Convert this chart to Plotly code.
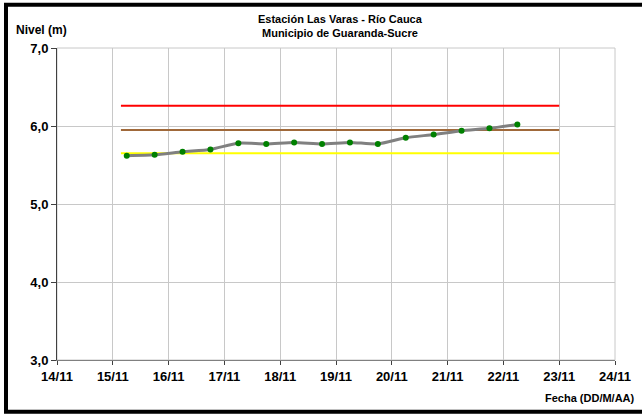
import plotly.graph_objects as go

# Water level readings, station Las Varas (Río Cauca)
fechas = [
    "2012-11-15 06:00", "2012-11-15 18:00", "2012-11-16 06:00", "2012-11-16 18:00",
    "2012-11-17 06:00", "2012-11-17 18:00", "2012-11-18 06:00", "2012-11-18 18:00",
    "2012-11-19 06:00", "2012-11-19 18:00", "2012-11-20 06:00", "2012-11-20 18:00",
    "2012-11-21 06:00", "2012-11-21 18:00", "2012-11-22 06:00",
]
nivel = [5.62, 5.63, 5.67, 5.70, 5.78, 5.77, 5.79, 5.77, 5.79, 5.77,
         5.85, 5.89, 5.94, 5.97, 6.02]

# Alert thresholds (m) and the period they span
umbral_inicio = "2012-11-15 03:30"
umbral_fin = "2012-11-23 00:00"
umbral_rojo = 6.26
umbral_naranja = 5.95
umbral_amarillo = 5.65

tick_fechas = [f"2012-11-{d}" for d in range(14, 25)]
tick_textos = [f"{d}/11" for d in range(14, 25)]
y_ticks = [3, 4, 5, 6, 7]
y_textos = ["3,0", "4,0", "5,0", "6,0", "7,0"]

fig = go.Figure()

for valor, color in [(umbral_rojo, "#ff0000"), (umbral_naranja, "#a0693a"),
                     (umbral_amarillo, "#ffff00")]:
    fig.add_trace(go.Scatter(
        x=[umbral_inicio, umbral_fin], y=[valor, valor], mode="lines",
        line=dict(color=color, width=2), hoverinfo="skip", showlegend=False))

fig.add_trace(go.Scatter(
    x=fechas, y=nivel, mode="lines+markers",
    line=dict(color="#808080", width=3, shape="spline", smoothing=0.6),
    marker=dict(color="#008000", size=6),
    showlegend=False))

FAM = "Liberation Sans, Arial, sans-serif"
tick_font = dict(size=13, family=FAM, color="#000000")

# plot area in pixels: x 57..615, y 47.5..360.5
PW, PH, L, T = 558, 313, 57, 47.5


def px(x):
    return (x - L) / PW


def py(y):
    return 1 - (y - T) / PH


def bold(s):
    return f"<b>{s}</b>"


fig.update_layout(
    width=642, height=416,
    margin=dict(l=57, r=27, t=47.5, b=55.5),
    paper_bgcolor="#ffffff", plot_bgcolor="#ffffff",
    font=dict(family=FAM, color="#000000"),
    xaxis=dict(
        type="date", range=["2012-11-14", "2012-11-24"],
        tickvals=tick_fechas, ticktext=[bold(t) for t in tick_textos],
        tickfont=tick_font,
        showgrid=True, gridcolor="#c8c8c8", gridwidth=1,
        showline=True, linecolor="#808080", linewidth=1,
        ticks="outside", ticklen=4, tickcolor="#404040",
        zeroline=False,
    ),
    yaxis=dict(
        range=[3, 7], tickvals=y_ticks, ticktext=[bold(t) for t in y_textos],
        tickfont=tick_font,
        showgrid=True, gridcolor="#c8c8c8", gridwidth=1,
        showline=True, linecolor="#404040", linewidth=1,
        ticks="outside", ticklen=5, tickcolor="#404040",
        zeroline=False,
    ),
    shapes=[
        # plot area outline (top and right edges)
        dict(type="rect", xref="paper", yref="paper", x0=0, x1=1, y0=0, y1=1,
             line=dict(color="#c8c8c8", width=1), layer="below"),
        # outer chart frame
        dict(type="rect", xref="paper", yref="paper",
             x0=px(6), x1=px(660), y0=py(412.5), y1=py(4),
             line=dict(color="#000000", width=4)),
    ],
    annotations=[
        dict(text=bold("Estación Las Varas - Río Cauca<br>Municipio de Guaranda-Sucre"),
             xref="paper", yref="paper", x=px(340), y=py(25),
             xanchor="center", yanchor="middle", showarrow=False,
             font=dict(size=11, family=FAM), align="center"),
        dict(text=bold("Nivel (m)"), xref="paper", yref="paper",
             x=px(14), y=py(29),
             xanchor="left", yanchor="middle", showarrow=False,
             font=dict(size=12, family=FAM)),
        dict(text=bold("Fecha (DD/M/AA)"), xref="paper", yref="paper",
             x=px(637), y=py(399),
             xanchor="right", yanchor="middle", showarrow=False,
             font=dict(size=11, family=FAM)),
    ],
)

fig.write_html("out.html")
